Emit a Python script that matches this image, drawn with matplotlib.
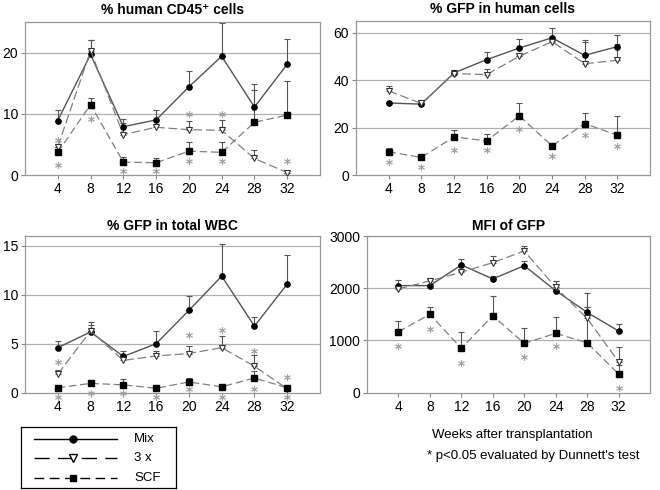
import matplotlib
matplotlib.use('Agg')
import matplotlib.pyplot as plt
import numpy as np

plt.rcParams['font.family'] = ['Liberation Sans', 'DejaVu Sans']

# weeks after transplantation
weeks = [4, 8, 12, 16, 20, 24, 28, 32]

# % human CD45+ cells
cd45_mix = [8.9, 19.7, 7.9, 9.0, 14.4, 19.4, 11.1, 18.1]
cd45_mix_sd = [1.7, 2.3, 1.3, 1.6, 2.6, 5.4, 3.8, 4.2]
cd45_3x = [4.6, 20.3, 6.6, 7.8, 7.4, 7.3, 2.7, 0.4]
cd45_3x_sd = [0.5, 1.7, 1.9, 0.3, 1.5, 1.7, 1.4, 0.0]
cd45_scf = [3.7, 11.5, 2.1, 2.0, 3.9, 3.7, 8.6, 9.8]
cd45_scf_sd = [0.9, 1.1, 0.8, 0.8, 1.5, 1.7, 5.3, 5.6]
cd45_star_x = [4, 4, 8, 12, 16, 20, 20, 24, 24, 32]
cd45_star_y = [5.8, 1.6, 9.2, 0.6, 0.6, 10.0, 2.3, 10.0, 2.3, 2.3]

# % GFP in human cells
hum_mix = [30.4, 29.9, 43.1, 48.7, 53.6, 57.9, 50.5, 54.2]
hum_mix_sd = [0.5, 0.3, 1.1, 3.2, 3.6, 4.2, 6.3, 5.1]
hum_3x = [35.5, 30.2, 42.8, 42.4, 50.1, 56.3, 47.0, 48.4]
hum_3x_sd = [1.9, 1.4, 1.4, 2.2, 0.3, 0.3, 9.0, 7.0]
hum_scf = [9.8, 7.4, 16.1, 14.4, 25.0, 12.3, 21.7, 16.8]
hum_scf_sd = [1.7, 0.3, 3.1, 3.1, 5.4, 0.7, 4.5, 8.2]
hum_star_x = [4, 8, 12, 16, 20, 24, 28, 32]
hum_star_y = [5.6, 3.5, 10.5, 10.5, 19.6, 8.0, 16.8, 12.3]

# % GFP in total WBC
wbc_mix = [4.6, 6.2, 3.7, 5.0, 8.4, 11.9, 6.8, 11.1]
wbc_mix_sd = [0.7, 1.0, 0.6, 1.3, 1.5, 3.3, 0.9, 3.0]
wbc_3x = [1.9, 6.3, 3.3, 3.75, 4.0, 4.6, 2.7, 0.4]
wbc_3x_sd = [0.4, 0.6, 0.4, 0.5, 0.8, 1.2, 1.2, 0.1]
wbc_scf = [0.5, 0.95, 0.8, 0.45, 1.1, 0.6, 1.5, 0.5]
wbc_scf_sd = [0.1, 0.1, 0.55, 0.25, 0.4, 0.1, 0.7, 0.1]
wbc_star_x = [4, 4, 8, 12, 16, 20, 20, 24, 24, 28, 28, 32, 32]
wbc_star_y = [3.1, -0.4, 0.0, 0.0, -0.4, 5.9, 0.4, 6.4, -0.4, 4.3, 0.4, 1.6, -0.4]

# MFI of GFP
mfi_mix = [2050, 2050, 2446, 2178, 2432, 1953, 1538, 1181]
mfi_mix_sd = [110, 40, 120, 58, 96, 185, 112, 128]
mfi_3x = [1987, 2140, 2306, 2490, 2713, 2017, 1423, 594]
mfi_3x_sd = [30, 40, 30, 135, 95, 121, 224, 276]
mfi_scf = [1168, 1500, 849, 1474, 945, 1136, 957, 358]
mfi_scf_sd = [204, 147, 319, 377, 289, 320, 958, 172]
mfi_star_x = [4, 8, 12, 20, 24, 32]
mfi_star_y = [900, 1213, 575, 690, 900, 83]

series_labels = ['Mix', '3 x', 'SCF']

fig = plt.figure(figsize=(6.6, 4.9), dpi=100)
W, H = 660.0, 490.0


def make_ax(left, right, top, bottom):
    return fig.add_axes([left / W, 1 - bottom / H, (right - left) / W, (bottom - top) / H])


def draw_panel(ax, title, mix, mix_sd, x3, x3_sd, scf, scf_sd, sx, sy, ymax, yticks, titlepad):
    for v in yticks[1:]:
        ax.axhline(v, color='#b0b0b0', lw=0.9, zorder=0)
    ecol = '#555555'
    for vals, sd in [(mix, mix_sd), (x3, x3_sd), (scf, scf_sd)]:
        ax.errorbar(weeks, vals, yerr=[np.zeros(8), sd], fmt='none', ecolor=ecol,
                    elinewidth=0.8, capsize=2.5, capthick=0.8, zorder=2)
    ax.plot(weeks, mix, color='#555555', lw=1.0, marker='o', ms=3.8,
            mfc='black', mec='black', zorder=3)
    ax.plot(weeks, x3, color='#808080', lw=0.9, dashes=(7, 3), marker='v', ms=5,
            mfc='white', mec='#333333', mew=0.8, zorder=3)
    ax.plot(weeks, scf, color='#808080', lw=0.9, dashes=(6, 3), marker='s', ms=4.2,
            mfc='black', mec='black', zorder=3)
    ax.plot(sx, sy, ls='none', marker='$*$', ms=4.5, color='#9a9a9a', mew=0.3,
            clip_on=False, zorder=4)
    ax.set_xlim(0, 36)
    ax.set_ylim(0, ymax)
    ax.set_xticks(weeks)
    ax.set_yticks(yticks)
    ax.tick_params(labelsize=10, length=3, color='#888888', pad=2)
    for s in ax.spines.values():
        s.set_color('#999999')
        s.set_linewidth(0.9)
    ax.set_title(title, fontsize=10, fontweight='bold', pad=titlepad)


ax1 = make_ax(25, 320, 22, 175)
draw_panel(ax1, '% human CD45\u207a cells', cd45_mix, cd45_mix_sd, cd45_3x, cd45_3x_sd,
           cd45_scf, cd45_scf_sd, cd45_star_x, cd45_star_y, 25, [0, 10, 20], 6)

ax2 = make_ax(356, 650, 21, 175)
draw_panel(ax2, '% GFP in human cells', hum_mix, hum_mix_sd, hum_3x, hum_3x_sd,
           hum_scf, hum_scf_sd, hum_star_x, hum_star_y, 65, [0, 20, 40, 60], 6)

ax3 = make_ax(25, 320, 236, 392.7)
draw_panel(ax3, '% GFP in total WBC', wbc_mix, wbc_mix_sd, wbc_3x, wbc_3x_sd,
           wbc_scf, wbc_scf_sd, wbc_star_x, wbc_star_y, 16, [0, 5, 10, 15], 4)

ax4 = make_ax(367, 650, 236, 392.7)
draw_panel(ax4, 'MFI of GFP', mfi_mix, mfi_mix_sd, mfi_3x, mfi_3x_sd,
           mfi_scf, mfi_scf_sd, mfi_star_x, mfi_star_y, 3000, [0, 1000, 2000, 3000], 4)

fig.text(512 / W, 1 - 435 / H, 'Weeks after transplantation', ha='center', va='center',
         fontsize=9.5)
fig.text(533 / W, 1 - 456 / H, "* p<0.05 evaluated by Dunnett's test", ha='center',
         va='center', fontsize=9.5)

# legend box drawn by hand, in pixel units of its own small axes
lg = make_ax(21, 176, 427, 488)
lg.set_xlim(0, 155)
lg.set_ylim(61, 0)
lg.set_xticks([])
lg.set_yticks([])
for s in lg.spines.values():
    s.set_color('black')
    s.set_linewidth(0.9)
rows = [11.5, 31, 50.5]
line_styles = [dict(ls='-'), dict(dashes=(11, 6)), dict(dashes=(7, 4))]
marker_styles = [dict(marker='o', ms=5, mfc='black'),
                 dict(marker='v', ms=6, mfc='white', mec='black'),
                 dict(marker='s', ms=5, mfc='black')]
for row, lab, ls_, mk in zip(rows, series_labels, line_styles, marker_styles):
    lg.plot([13, 96], [row, row], color='black', lw=1.0, **ls_)
    lg.plot([52], [row], ls='none', color='black', **mk)
    lg.text(113, row, lab, ha='left', va='center', fontsize=9.5)

fig.savefig('out.png', dpi=100)
